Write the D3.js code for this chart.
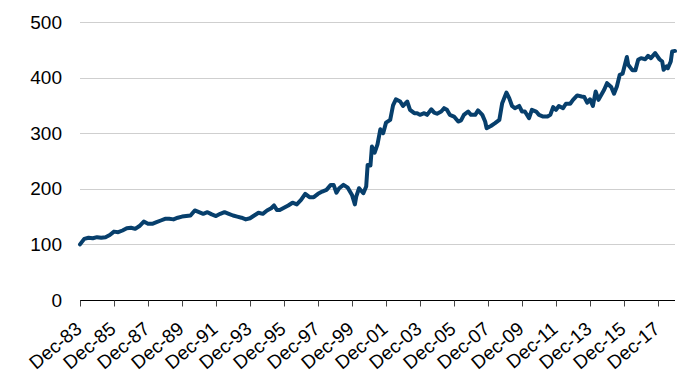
<!DOCTYPE html>
<html lang="en">
<head>
  <meta charset="UTF-8">
  <title>Index chart</title>
  <script src="https://cdn.jsdelivr.net/npm/d3@7"></script>
  <style>
    body { margin: 0; background: #fff; }
    text { font-family: "Liberation Sans", Arial, Helvetica, sans-serif; }
  </style>
</head>
<body>
  <svg width="700" height="378"></svg>
  <script>
    // data (month, index level)
    var months = [
      "1983-12","1984-03","1984-06","1984-09","1984-12","1985-03","1985-06","1985-09","1985-12",
      "1986-03","1986-06","1986-09","1986-12","1987-03","1987-06","1987-09","1987-12",
      "1988-03","1988-06","1988-09","1988-12","1989-03","1989-06","1989-09","1989-12",
      "1990-03","1990-06","1990-09","1990-12","1991-03","1991-06","1991-09","1991-12",
      "1992-03","1992-06","1992-09","1992-12","1993-03","1993-06","1993-09","1993-12",
      "1994-03","1994-06","1994-09","1994-12","1995-03","1995-05","1995-07","1995-09","1995-12",
      "1996-03","1996-06","1996-09","1996-12","1997-03","1997-06","1997-09","1997-12",
      "1998-03","1998-06","1998-09","1998-11","1999-01","1999-03","1999-06","1999-09","1999-12",
      "2000-02","2000-03","2000-05","2000-08","2000-10","2000-11","2001-01","2001-02","2001-04",
      "2001-06","2001-08","2001-10","2001-12","2002-03","2002-05","2002-07","2002-10","2002-12",
      "2003-03","2003-05","2003-08","2003-10","2003-12","2004-03","2004-05","2004-08","2004-10","2004-12",
      "2005-03","2005-05","2005-07","2005-09","2005-12","2006-03","2006-05","2006-07","2006-10","2006-12",
      "2007-03","2007-05","2007-08","2007-10","2007-11","2008-02","2008-05","2008-08","2008-10",
      "2009-01","2009-03","2009-05","2009-07","2009-10","2009-12","2010-02","2010-05","2010-07","2010-10","2010-12",
      "2011-03","2011-06","2011-08","2011-10","2011-12","2012-02","2012-05","2012-07","2012-10","2012-12",
      "2013-03","2013-06","2013-08","2013-10","2013-12","2014-02","2014-04","2014-06","2014-08","2014-10","2014-12",
      "2015-03","2015-05","2015-07","2015-09","2015-11","2016-02","2016-03","2016-06","2016-08","2016-10","2016-12",
      "2017-03","2017-05","2017-07","2017-10","2018-01","2018-03","2018-04","2018-06","2018-07","2018-09","2018-10","2018-12"
    ];
    var values = [
      100,110,112,111,113,112,113,117,123,
      122,125,129,130,128,133,141,137,
      137,140,143,146,146,145,148,150,
      151,152,161,158,155,158,154,151,
      155,158,155,152,150,148,145,147,
      152,157,155,161,165,170,162,162,166,
      170,175,172,180,191,185,185,191,
      195,198,207,207,193,201,207,202,189,
      172,186,201,192,204,243,242,276,265,
      280,307,300,319,324,350,361,357,349,
      357,342,336,336,333,336,333,343,337,335,
      339,345,342,333,330,321,323,333,339,333,
      333,341,333,321,309,313,318,324,354,
      373,363,349,345,349,339,339,327,342,339,333,
      330,330,333,347,342,349,345,353,353,360,
      368,366,365,355,361,349,375,360,369,378,390,
      383,371,384,405,407,437,423,413,413,432,435,
      433,439,435,444,433,429,414,420,417,429,447,448
    ];
    var yTicks = [0, 100, 200, 300, 400, 500];
    var xTickYears = d3.range(1983, 2018, 2); // Dec-83 ... Dec-17

    var parse = d3.timeParse("%Y-%m");
    var data = months.map(function(m, i){ return {date: parse(m), value: values[i]}; });

    var svg = d3.select("svg");
    var plotL = 80, plotR = 675, plotT = 22, plotB = 300;

    var x = d3.scaleTime()
      .domain([new Date(1983, 11, 1), new Date(2018, 11, 1)])
      .range([plotL, plotR]);
    var y = d3.scaleLinear().domain([0, 500]).range([plotB, plotT]);

    // gridlines
    svg.append("g")
      .selectAll("line")
      .data(yTicks.filter(function(d){ return d > 0; }))
      .enter().append("line")
      .attr("x1", plotL).attr("x2", plotR)
      .attr("y1", function(d){ return Math.round(y(d)) + 0.5; })
      .attr("y2", function(d){ return Math.round(y(d)) + 0.5; })
      .attr("stroke", "#cfcfcf")
      .attr("stroke-width", 1);

    // y labels
    svg.append("g")
      .selectAll("text")
      .data(yTicks)
      .enter().append("text")
      .attr("x", 62)
      .attr("y", function(d){ return y(d); })
      .attr("dy", "0.35em")
      .attr("text-anchor", "end")
      .attr("font-size", 19)
      .attr("fill", "#000")
      .text(function(d){ return d; });

    // x axis
    var tickDates = xTickYears.map(function(yr){ return new Date(yr, 11, 1); });
    var xAxis = d3.axisBottom(x)
      .tickValues(tickDates)
      .tickSize(6)
      .tickFormat("");
    var gx = svg.append("g")
      .attr("transform", "translate(0," + (plotB + 0.5) + ")")
      .call(xAxis);
    gx.select(".domain").attr("stroke", "#000").attr("d", "M" + plotL + ",0H" + plotR);
    gx.selectAll(".tick line").attr("stroke", "#444");

    var fmt = d3.timeFormat("%b-%y");
    svg.append("g")
      .selectAll("text")
      .data(tickDates)
      .enter().append("text")
      .attr("transform", function(d){ return "translate(" + (x(d) + 3) + ",331) rotate(-40)"; })
      .attr("text-anchor", "end")
      .attr("font-size", 19)
      .attr("fill", "#000")
      .text(function(d){ return fmt(d); });

    // series line
    var line = d3.line()
      .x(function(d){ return x(d.date); })
      .y(function(d){ return y(d.value); });

    svg.append("path")
      .datum(data)
      .attr("fill", "none")
      .attr("stroke", "#073f6c")
      .attr("stroke-width", 4)
      .attr("stroke-linejoin", "round")
      .attr("stroke-linecap", "round")
      .attr("d", line);
  </script>
</body>
</html>
